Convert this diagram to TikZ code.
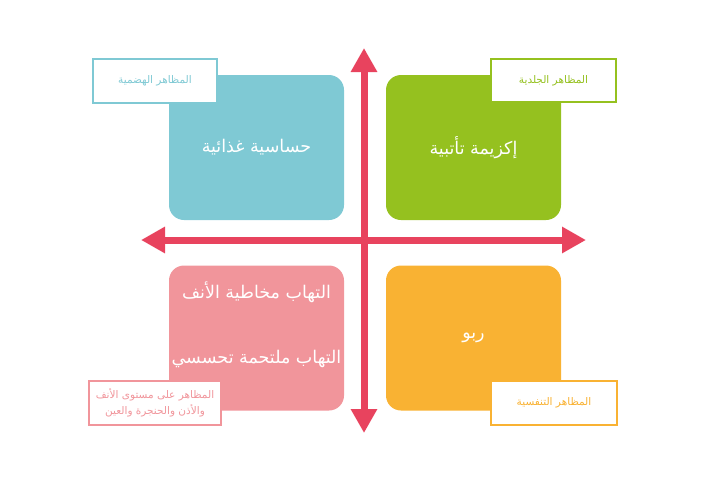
\documentclass[tikz,border=0pt]{standalone}
\usepackage{fontspec}
\newfontfamily\arabicfont[Script=Arabic]{DejaVu Sans}
\TeXXeTstate=1
\usetikzlibrary{arrows.meta}
\definecolor{teal1}{HTML}{7FC9D4}
\definecolor{green1}{HTML}{95C11F}
\definecolor{pink1}{HTML}{F1959B}
\definecolor{orange1}{HTML}{F9B233}
\definecolor{axisred}{HTML}{E8435E}
\begin{document}
\begin{tikzpicture}[x=1pt, y=-1pt,
  quad/.style={rounded corners=15pt, minimum width=175pt, minimum height=145pt,
               inner sep=0pt, text=white, font=\arabicfont\fontsize{17.5}{21}\selectfont},
  qtext/.style={text=white, align=center, font=\arabicfont\fontsize{17.5}{21}\selectfont},
  tag/.style={draw=#1, fill=white, line width=2.5pt, text=#1, align=center,
              inner sep=0pt, font=\arabicfont\fontsize{10.5}{16}\selectfont},
  axis/.style={line width=7pt, axisred, {Triangle[length=24pt,width=25pt]}-{Triangle[length=24pt,width=25pt]}}
]
  \useasboundingbox (0,0) rectangle (727,482);

  \node[quad, fill=teal1]   (food)   at (256.5,147.5) {\beginR حساسية غذائية\endR};
  \node[quad, fill=green1]  (eczema) at (473.5,147.5) {\beginR إكزيمة تأتبية\endR};
  \node[quad, fill=pink1]   (rhin)   at (256.5,338)   {};
  \node[quad, fill=orange1] (asthma) at (473.5,338)   {\beginR ربو\endR};
  \node[qtext] (rhintxt) at (256.5,324.5)
    {\beginR التهاب مخاطية الأنف\endR\\[44pt]\beginR التهاب ملتحمة تحسسي\endR};

  \coordinate (up)    at (364,48);
  \coordinate (down)  at (364,433);
  \coordinate (left)  at (141,240);
  \coordinate (right) at (586,240);
  \draw[axis] (down) -- (up);
  \draw[axis] (left) -- (right);

  \node[tag=teal1, minimum width=124pt, minimum height=44pt]   (digest) at (155,81)
    {\beginR المظاهر الهضمية\endR};
  \node[tag=green1, minimum width=125pt, minimum height=43pt]  (skin)   at (553.5,80.5)
    {\beginR المظاهر الجلدية\endR};
  \node[tag=pink1, minimum width=132pt, minimum height=44pt]   (ent)    at (155,403)
    {\beginR المظاهر على مستوى الأنف\endR\\\beginR والأذن والحنجرة والعين\endR};
  \node[tag=orange1, minimum width=126pt, minimum height=44pt] (resp)   at (554,403)
    {\beginR المظاهر التنفسية\endR};
\end{tikzpicture}
\end{document}
